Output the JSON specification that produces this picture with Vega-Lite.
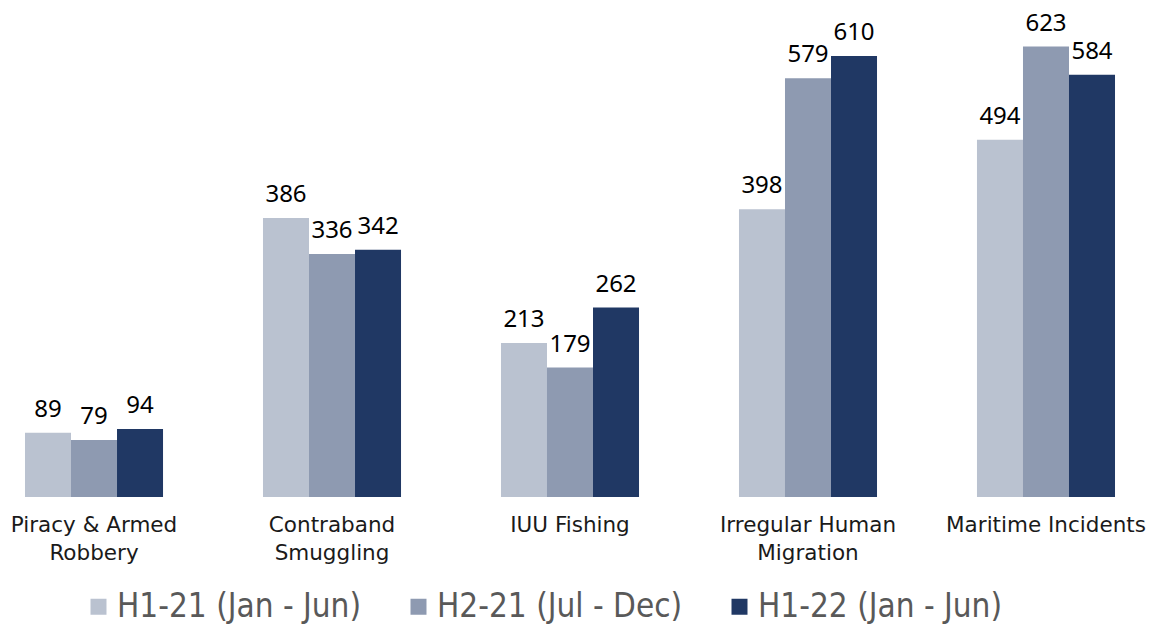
{
  "$schema": "https://vega.github.io/schema/vega-lite/v6.json",
  "autosize": {"type": "none"},
  "width": 1140,
  "height": 470,
  "padding": {"left": 0, "top": 27, "right": 20, "bottom": 131},
  "background": "white",
  "config": {"view": {"stroke": null}},
  "data": {
    "values": [
      {"category": "Piracy & Armed Robbery", "period": "H1-21 (Jan - Jun)", "value": 89},
      {"category": "Piracy & Armed Robbery", "period": "H2-21 (Jul - Dec)", "value": 79},
      {"category": "Piracy & Armed Robbery", "period": "H1-22 (Jan - Jun)", "value": 94},
      {"category": "Contraband Smuggling", "period": "H1-21 (Jan - Jun)", "value": 386},
      {"category": "Contraband Smuggling", "period": "H2-21 (Jul - Dec)", "value": 336},
      {"category": "Contraband Smuggling", "period": "H1-22 (Jan - Jun)", "value": 342},
      {"category": "IUU Fishing", "period": "H1-21 (Jan - Jun)", "value": 213},
      {"category": "IUU Fishing", "period": "H2-21 (Jul - Dec)", "value": 179},
      {"category": "IUU Fishing", "period": "H1-22 (Jan - Jun)", "value": 262},
      {"category": "Irregular Human Migration", "period": "H1-21 (Jan - Jun)", "value": 398},
      {"category": "Irregular Human Migration", "period": "H2-21 (Jul - Dec)", "value": 579},
      {"category": "Irregular Human Migration", "period": "H1-22 (Jan - Jun)", "value": 610},
      {"category": "Maritime Incidents", "period": "H1-21 (Jan - Jun)", "value": 494},
      {"category": "Maritime Incidents", "period": "H2-21 (Jul - Dec)", "value": 623},
      {"category": "Maritime Incidents", "period": "H1-22 (Jan - Jun)", "value": 584}
    ]
  },
  "encoding": {
    "x": {
      "field": "category",
      "type": "nominal",
      "sort": ["Piracy & Armed Robbery", "Contraband Smuggling", "IUU Fishing", "Irregular Human Migration", "Maritime Incidents"],
      "scale": {"paddingInner": 0.42, "paddingOuter": 0.105},
      "axis": {
        "title": null,
        "domain": false,
        "ticks": false,
        "labelAngle": 0,
        "labelPadding": 17,
        "labelFont": "DejaVu Sans",
        "labelFontSize": 21.5,
        "labelColor": "#1a1a1a",
        "labelLineHeight": 28,
        "labelBaseline": "top",
        "labelLimit": 400,
        "labelExpr": "datum.value == 'Piracy & Armed Robbery' ? ['Piracy & Armed', 'Robbery'] : datum.value == 'Contraband Smuggling' ? ['Contraband', 'Smuggling'] : datum.value == 'Irregular Human Migration' ? ['Irregular Human', 'Migration'] : datum.value"
      }
    },
    "xOffset": {
      "field": "period",
      "type": "nominal",
      "sort": ["H1-21 (Jan - Jun)", "H2-21 (Jul - Dec)", "H1-22 (Jan - Jun)"],
      "scale": {"paddingInner": 0, "paddingOuter": 0}
    },
    "y": {
      "field": "value",
      "type": "quantitative",
      "scale": {"domain": [0, 650], "nice": false},
      "axis": null
    }
  },
  "layer": [
    {
      "mark": {"type": "bar"},
      "encoding": {
        "color": {
          "field": "period",
          "type": "nominal",
          "sort": ["H1-21 (Jan - Jun)", "H2-21 (Jul - Dec)", "H1-22 (Jan - Jun)"],
          "scale": {
            "domain": ["H1-21 (Jan - Jun)", "H2-21 (Jul - Dec)", "H1-22 (Jan - Jun)"],
            "range": ["#BAC2D0", "#8E9AB1", "#203864"]
          },
          "legend": {
            "title": null,
            "orient": "none",
            "legendX": 82,
            "legendY": 563,
            "direction": "horizontal",
            "symbolType": "square",
            "symbolSize": 256,
            "symbolStrokeWidth": 0,
            "labelFont": "DejaVu Sans Condensed",
            "labelFontSize": 33,
            "labelColor": "#595959",
            "labelOffset": 2,
            "columnPadding": 40,
            "labelLimit": 400
          }
        }
      }
    },
    {
      "mark": {"type": "text", "baseline": "alphabetic", "dy": -16, "font": "Noto Sans", "fontSize": 24, "color": "#000000"},
      "encoding": {
        "text": {"field": "value", "type": "quantitative"}
      }
    }
  ]
}
